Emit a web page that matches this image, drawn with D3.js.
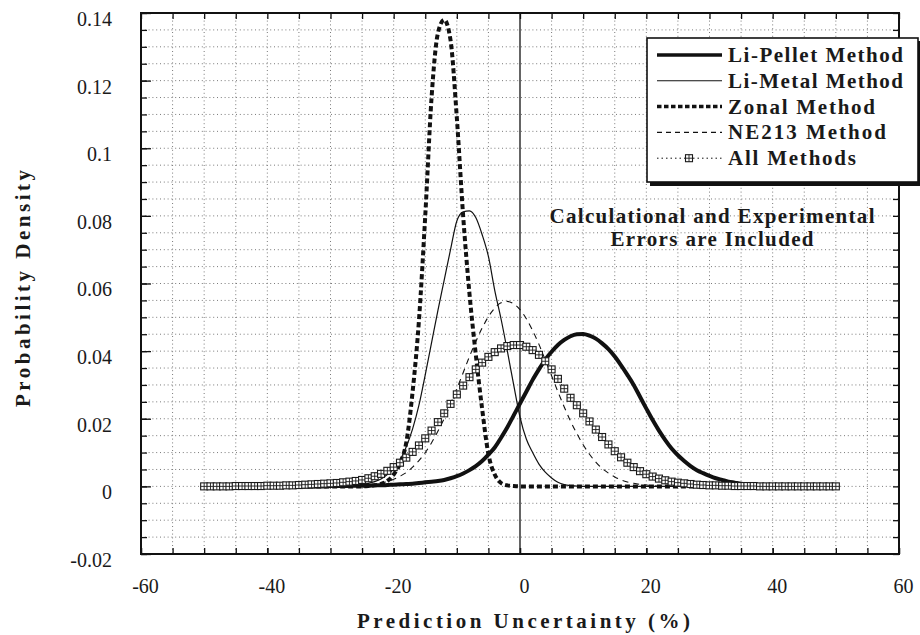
<!DOCTYPE html>
<html>
<head>
<meta charset="utf-8">
<script src="https://cdn.jsdelivr.net/npm/d3@7"></script>
<style>
  html, body { margin: 0; padding: 0; background: #fff; }
</style>
</head>
<body>
<svg id="chart" width="920" height="635"></svg>
<script>
// Prediction uncertainty grid (%), one sample per percent
const uncertainty = d3.range(-50, 51, 1);

// Probability density of each method, sampled at every point of `uncertainty`
const liPellet = [
  0,0,0,0,0,0,0,0,0,0,
  0,0,0,0,0,0,0,0,0,0,
  0.0001,0.0001,0.0001,0.0001,0.0002,0.0002,0.0002,0.0003,0.0003,0.0004,
  0.0005,0.0006,0.0007,0.0008,0.0010,0.0012,0.0014,0.0016,0.0019,0.0024,
  0.0030,0.0038,0.0048,0.0060,0.0075,0.0094,0.0115,0.0144,0.0175,0.0210,
  0.0245,0.0280,0.0315,0.0346,0.0375,0.0398,0.0418,0.0433,0.0444,0.0450,
  0.0451,0.0446,0.0437,0.0423,0.0406,0.0384,0.0358,0.0330,0.0300,0.0265,
  0.0230,0.0196,0.0165,0.0137,0.0112,0.0092,0.0075,0.0060,0.0048,0.0039,
  0.0031,0.0024,0.0019,0.0014,0.0011,0.0008,0.0006,0.0004,0.0003,0.0002,
  0.0002,0.0001,0.0001,0.0001,0,0,0,0,0,0,
  0
];

const liMetal = [
  0,0,0,0,0,0,0,0,0,0,
  0,0,0,0,0,0,0,0,0,0,
  0.0001,0.0001,0.0002,0.0003,0.0004,0.0006,0.0009,0.0014,0.0022,0.0035,
  0.0052,0.0077,0.0117,0.0170,0.0240,0.0330,0.0425,0.0520,0.0610,0.0700,
  0.0785,0.0812,0.0815,0.0795,0.0745,0.0680,0.0580,0.0495,0.0400,0.0300,
  0.0205,0.0140,0.0100,0.0066,0.0042,0.0025,0.0012,0.0005,0.0002,0.0001,
  0,0,0,0,0,0,0,0,0,0,
  0,0,0,0,0,0,0,0,0,0,
  0,0,0,0,0,0,0,0,0,0,
  0,0,0,0,0,0,0,0,0,0,
  0
];

const zonal = [
  0,0,0,0,0,0,0,0,0,0,
  0,0,0,0,0,0,0,0,0,0,
  0,0,0,0,0,0,0.0001,0.0003,0.0007,0.0016,
  0.0035,0.0068,0.0130,0.0280,0.0490,0.0800,0.1150,0.1340,0.1380,0.1320,
  0.1090,0.0800,0.0570,0.0390,0.0230,0.0095,0.0035,0.0010,0.0003,0.0001,
  0,0,0,0,0,0,0,0,0,0,
  0,0,0,0,0,0,0,0,0,0,
  0,0,0,0,0,0,0,0,0,0,
  0,0,0,0,0,0,0,0,0,0,
  0,0,0,0,0,0,0,0,0,0,
  0
];

const ne213 = [
  0,0,0,0,0,0,0,0,0,0,
  0,0,0,0,0,0,0,0,0,0,
  0,0,0,0,0.0002,0.0003,0.0004,0.0007,0.0010,0.0014,
  0.0021,0.0030,0.0041,0.0057,0.0076,0.0100,0.0129,0.0163,0.0201,0.0244,
  0.0289,0.0336,0.0384,0.0428,0.0468,0.0502,0.0527,0.0543,0.0547,0.0540,
  0.0523,0.0496,0.0461,0.0420,0.0374,0.0327,0.0280,0.0235,0.0193,0.0156,
  0.0123,0.0095,0.0072,0.0053,0.0039,0.0028,0.0019,0.0013,0.0009,0.0006,
  0.0004,0.0002,0.0001,0,0,0,0,0,0,0,
  0,0,0,0,0,0,0,0,0,0,
  0,0,0,0,0,0,0,0,0,0,
  0
];

const allMethods = [
  0,0,0,0,0,0.0001,0.0001,0.0001,0.0001,0.0001,
  0.0002,0.0002,0.0002,0.0003,0.0003,0.0004,0.0005,0.0006,0.0007,0.0008,
  0.0009,0.0010,0.0012,0.0014,0.0016,0.0019,0.0024,0.0030,0.0037,0.0046,
  0.0057,0.0070,0.0085,0.0102,0.0121,0.0142,0.0165,0.0190,0.0216,0.0244,
  0.0272,0.0298,0.0323,0.0346,0.0366,0.0383,0.0397,0.0408,0.0415,0.0418,
  0.0418,0.0413,0.0403,0.0389,0.0370,0.0346,0.0318,0.0289,0.0262,0.0240,
  0.0216,0.0192,0.0168,0.0146,0.0124,0.0104,0.0086,0.0070,0.0057,0.0045,
  0.0036,0.0029,0.0023,0.0018,0.0014,0.0011,0.0009,0.0007,0.0005,0.0004,
  0.0003,0.0003,0.0002,0.0002,0.0001,0.0001,0.0001,0.0001,0,0,
  0,0,0,0,0,0,0,0,0,0,
  0
];

// Axis ticks and labels
const xTickValues = [-60, -40, -20, 0, 20, 40, 60];
const xTickLabels = ["-60", "-40", "-20", "0", "20", "40", "60"];
const yTickValues = [-0.02, 0, 0.02, 0.04, 0.06, 0.08, 0.1, 0.12, 0.14];
const yTickLabels = ["-0.02", "0", "0.02", "0.04", "0.06", "0.08", "0.1", "0.12", "0.14"];
const xMinorSteps = d3.range(-60, 61, 5);
const yMinorSteps = d3.range(-20, 141, 5).map(v => v / 1000);

const seriesNames = ["Li-Pellet Method", "Li-Metal Method", "Zonal Method", "NE213 Method", "All Methods"];
const noteLines = ["Calculational and Experimental", "Errors are Included"];
const xTitle = "Prediction Uncertainty (%)";
const yTitle = "Probability Density";

// ---------------------------------------------------------------
const FONT = '"Liberation Serif"';
const svg = d3.select("#chart");
const plot = { left: 141, right: 899, top: 13, bottom: 554 };

const x = d3.scaleLinear().domain([-60, 60]).range([plot.left, plot.right]);
const y = d3.scaleLinear().domain([-0.02, 0.14]).range([plot.bottom, plot.top]);

// shared text styling; wide typeset runs are spread with textLength
function serif(sel, size, bold, spread) {
  sel.style("font-family", FONT)
    .attr("font-size", size)
    .attr("font-weight", bold ? "bold" : "normal")
    .attr("fill", "#1a1a1a");
  if (spread) sel.attr("textLength", spread).attr("lengthAdjust", "spacing");
}

// dotted grid
const grid = svg.append("g").attr("stroke", "#7a7a7a").attr("stroke-width", 1)
  .attr("stroke-dasharray", "1 2.8");
grid.selectAll("line.gx")
  .data(xMinorSteps.filter(v => v > -60 && v < 60 && v !== 0))
  .join("line").attr("class", "gx")
  .attr("x1", d => x(d)).attr("x2", d => x(d))
  .attr("y1", plot.top).attr("y2", plot.bottom);
grid.selectAll("line.gy")
  .data(yMinorSteps.filter(v => v > -0.02 && v < 0.14))
  .join("line").attr("class", "gy")
  .attr("x1", plot.left).attr("x2", plot.right)
  .attr("y1", d => y(d)).attr("y2", d => y(d));

// vertical reference line at zero uncertainty
svg.append("line")
  .attr("x1", x(0)).attr("x2", x(0))
  .attr("y1", plot.top).attr("y2", plot.bottom)
  .attr("stroke", "#111").attr("stroke-width", 1.3);

// axes (ticks point into the plot on all four sides)
function styleAxis(g) {
  g.attr("font-family", null).attr("font-size", null);
  g.select(".domain").remove();
  g.selectAll(".tick line").attr("stroke", "#111").attr("stroke-width", 1.3);
}

svg.append("g").attr("transform", `translate(${plot.left},0)`)
  .call(d3.axisLeft(y).tickValues(yMinorSteps).tickSize(-6).tickFormat(""))
  .call(styleAxis);
const yAxis = svg.append("g").attr("transform", `translate(${plot.left},0)`)
  .call(d3.axisLeft(y).tickValues(yTickValues).tickSize(-10).tickPadding(29)
    .tickFormat(d => yTickLabels[yTickValues.indexOf(d)]))
  .call(styleAxis);
yAxis.selectAll("text")
  .call(serif, 20, false)
  .attr("transform", "translate(0,6)");

svg.append("g").attr("transform", `translate(${plot.right},0)`)
  .call(d3.axisRight(y).tickValues(yMinorSteps).tickSize(-6).tickFormat(""))
  .call(styleAxis);

svg.append("g").attr("transform", `translate(0,${plot.bottom})`)
  .call(d3.axisBottom(x).tickValues(xMinorSteps).tickSize(-6).tickFormat(""))
  .call(styleAxis);
const xAxis = svg.append("g").attr("transform", `translate(0,${plot.bottom})`)
  .call(d3.axisBottom(x).tickValues(xTickValues).tickSize(-6).tickPadding(25)
    .tickFormat(d => xTickLabels[xTickValues.indexOf(d)]))
  .call(styleAxis);
xAxis.selectAll("text")
  .call(serif, 20, false)
  .attr("dx", 4);

svg.append("g").attr("transform", `translate(0,${plot.top})`)
  .call(d3.axisTop(x).tickValues(xMinorSteps).tickSize(-6).tickFormat(""))
  .call(styleAxis);

// plot frame
svg.append("rect")
  .attr("x", plot.left).attr("y", plot.top)
  .attr("width", plot.right - plot.left).attr("height", plot.bottom - plot.top)
  .attr("fill", "none").attr("stroke", "#111").attr("stroke-width", 2);

// axis titles
svg.append("text")
  .attr("x", 357).attr("y", 628)
  .call(serif, 21, true, 333)
  .text(xTitle);
svg.append("text")
  .attr("transform", "translate(30,407) rotate(-90)")
  .call(serif, 21, true, 237)
  .text(yTitle);

// curves
const toPoints = vals => uncertainty.map((u, i) => ({ u, p: vals[i] }));
const line = d3.line().x(d => x(d.u)).y(d => y(d.p)).curve(d3.curveMonotoneX);

const styles = [
  { vals: ne213, width: 1.1, dash: "6 5" },
  { vals: liMetal, width: 1.2, dash: null },
  { vals: zonal, width: 4, dash: "5 3" },
  { vals: liPellet, width: 4, dash: null },
  { vals: allMethods, width: 1, dash: "1 3" }
];
const curves = svg.append("g").attr("fill", "none").attr("stroke", "#111");
styles.forEach(s => {
  curves.append("path")
    .datum(toPoints(s.vals))
    .attr("d", line)
    .attr("stroke-width", s.width)
    .attr("stroke-dasharray", s.dash);
});

// boxed-cross markers for the combined distribution
function marker(g) {
  g.append("rect").attr("x", -3.5).attr("y", -3.5).attr("width", 7).attr("height", 7)
    .attr("fill", "#fff").attr("stroke", "#1a1a1a").attr("stroke-width", 1.1);
  g.append("path").attr("d", "M-3.5,0H3.5M0,-3.5V3.5")
    .attr("stroke", "#1a1a1a").attr("stroke-width", 0.9);
}
svg.append("g").selectAll("g")
  .data(toPoints(allMethods))
  .join("g")
  .attr("transform", d => `translate(${x(d.u)},${y(d.p)})`)
  .each(function () { marker(d3.select(this)); });

// legend
const lg = svg.append("g");
lg.append("rect").attr("x", 650).attr("y", 41).attr("width", 272).attr("height", 145).attr("fill", "#111");
lg.append("rect").attr("x", 647).attr("y", 38).attr("width", 271).attr("height", 144)
  .attr("fill", "#fff").attr("stroke", "#111").attr("stroke-width", 1.6);
const legendStyles = [
  { width: 3.5, dash: null, spread: 175 },
  { width: 1.1, dash: null, spread: 175 },
  { width: 3.5, dash: "4.5 2.5", spread: 147 },
  { width: 1.1, dash: "5 4", spread: 158 },
  { width: 1, dash: "1.5 3", spread: 128 }
];
seriesNames.forEach((name, i) => {
  const cy = 55 + i * 25.8;
  lg.append("line")
    .attr("x1", 657).attr("x2", 722).attr("y1", cy).attr("y2", cy)
    .attr("stroke", "#111").attr("stroke-width", legendStyles[i].width)
    .attr("stroke-dasharray", legendStyles[i].dash);
  if (i === 4) {
    const m = lg.append("g").attr("transform", `translate(689,${cy})`);
    marker(m);
  }
  lg.append("text")
    .attr("x", 728).attr("y", cy + 7)
    .call(serif, 21, true, legendStyles[i].spread)
    .text(name);
});

// note
const noteSpread = [325, 203];
noteLines.forEach((t, i) => {
  svg.append("text")
    .attr("x", 712 - noteSpread[i] / 2).attr("y", 223 + i * 22.5)
    .call(serif, 21, true, noteSpread[i])
    .text(t);
});
</script>
</body>
</html>
